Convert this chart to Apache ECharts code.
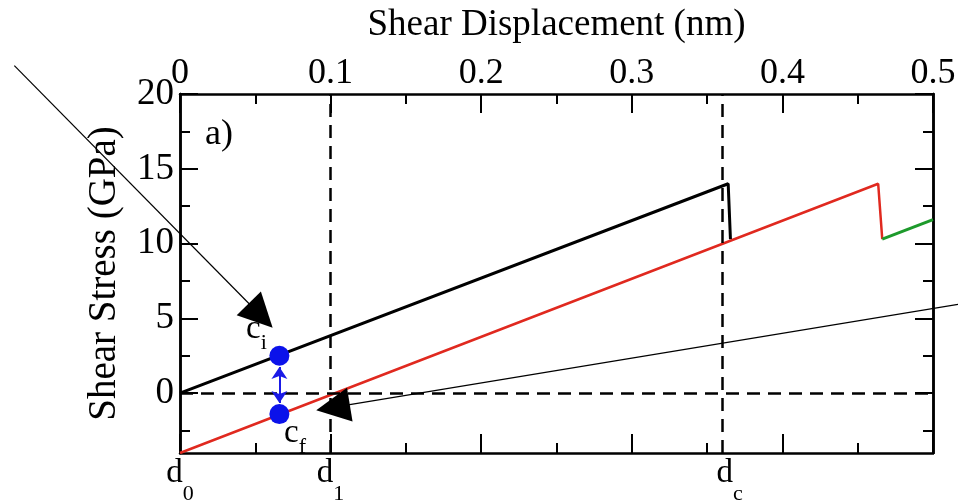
<!DOCTYPE html>
<html>
<head>
<meta charset="utf-8">
<title>Shear Stress vs Shear Displacement</title>
<script src="https://cdn.jsdelivr.net/npm/echarts@6/dist/echarts.min.js"></script>
</head>
<body style="margin:0;background:#fff">
<div id="main" style="width:958px;height:504px;"></div>
<script type="text/javascript">
// values
var blackLine = [[0, 0], [0.364, 14.0], [0.3655, 10.3]];
var redLine = [[0, -4], [0.4636, 14.0], [0.4663, 10.3]];
var greenLine = [[0.4663, 10.3], [0.5, 11.6]];
var cPoints = [[0.066, 2.5], [0.066, -1.4]];
var dPositions = [0, 0.1, 0.365];
var dNames = ['0', '1', 'c'];
var yMajor = [0, 5, 10, 15, 20];
var yMinor = [-2.5, 2.5, 7.5, 12.5, 17.5];
var dashX = [0.1, 0.365];
var dashY = [0];
// annotation arrows, [start, end] in data units
var arrowIn1 = [[-0.110, 21.9], [0.0536, 5.19]];
var arrowIn2 = [[0.5166, 5.93], [0.1016, -0.95]];
var cArrow = [[0.066, 1.75], [0.066, -0.65]];

var serif = 'Liberation Serif';
var tickStyle = {color: '#000', width: 2};

function xAxisBase(pos) {
    return {
        type: 'value', position: pos, min: 0, max: 0.5, interval: 0.1,
        axisLine: {onZero: false, lineStyle: {color: '#000', width: 2.5}},
        axisTick: {inside: true, length: 19, lineStyle: tickStyle},
        minorTick: {show: true, splitNumber: 2, length: 10, lineStyle: tickStyle},
        splitLine: {show: false}
    };
}
function yAxisBase(pos, ticks, len) {
    return {
        type: 'value', position: pos, min: -4, max: 20,
        axisLine: {show: true, onZero: false, lineStyle: {color: '#000', width: 2.5}},
        axisTick: {inside: true, length: len, customValues: ticks, lineStyle: tickStyle},
        axisLabel: {show: false},
        splitLine: {show: false}
    };
}

function subRich(subLine) {
    return {
        d: {fontSize: 33, fontFamily: serif, color: '#000', verticalAlign: 'top', lineHeight: 32},
        s: {fontSize: 22, fontFamily: serif, color: '#000', verticalAlign: 'bottom', lineHeight: subLine}
    };
}

var xBottom = xAxisBase('bottom');
xBottom.axisLabel = {
    customValues: dPositions, margin: 4, color: '#000', fontFamily: serif,
    formatter: function (v) {
        var i = dPositions.indexOf(v);
        return '{d|d}{s|' + (i >= 0 ? dNames[i] : '') + '}';
    },
    rich: subRich(48)
};
var xTop = xAxisBase('top');
xTop.name = 'Shear Displacement (nm)';
xTop.nameLocation = 'middle';
xTop.nameGap = 50;
xTop.nameTextStyle = {fontSize: 37, fontFamily: serif, color: '#000'};
xTop.axisLabel = {
    margin: 2, color: '#000', fontSize: 36, fontFamily: serif,
    showMinLabel: true, showMaxLabel: true,
    formatter: function (v) { return v === 0 ? '0' : v.toFixed(1); }
};

var yLeft = yAxisBase('left', yMajor, 18);
yLeft.axisLabel = {show: true, customValues: yMajor, margin: 6, color: '#000', fontSize: 37, fontFamily: serif};
yLeft.name = 'Shear Stress (GPa)';
yLeft.nameLocation = 'middle';
yLeft.nameGap = 56;
yLeft.nameTextStyle = {fontSize: 39, fontFamily: serif, color: '#000'};

var myChart = echarts.init(document.getElementById('main'), null, {renderer: 'canvas'});

var option = {
    backgroundColor: '#fff',
    animation: false,
    grid: {left: 180, right: 25, top: 94, bottom: 51, outerBoundsMode: 'none'},
    xAxis: [xBottom, xTop],
    yAxis: [
        yLeft,
        yAxisBase('left', yMinor, 10),
        yAxisBase('right', yMajor, 18),
        yAxisBase('right', yMinor, 10)
    ],
    series: [
        {
            type: 'line', data: blackLine, symbol: 'none', z: 4,
            lineStyle: {color: '#000', width: 3},
            markLine: {
                silent: true, symbol: 'none', label: {show: false},
                lineStyle: {color: '#000', width: 2.5, type: [13, 8]},
                data: dashX.map(function (x) { return {xAxis: x}; })
                    .concat(dashY.map(function (y) { return {yAxis: y}; }))
            }
        },
        {type: 'line', data: redLine, symbol: 'none', z: 3, lineStyle: {color: '#e0291f', width: 2.5}},
        {type: 'line', data: greenLine, symbol: 'none', z: 3, lineStyle: {color: '#1d9a2b', width: 3}},
        {
            type: 'lines', coordinateSystem: 'cartesian2d', clip: false, z: 6,
            symbol: ['none', 'triangle'], symbolSize: [25, 34],
            lineStyle: {color: '#000', width: 1.2, opacity: 1},
            data: [{coords: arrowIn1}, {coords: arrowIn2}]
        },
        {
            type: 'lines', coordinateSystem: 'cartesian2d', clip: false, z: 7,
            symbol: ['arrow', 'arrow'], symbolSize: [12, 12],
            lineStyle: {color: '#1a1ae6', width: 2, opacity: 1},
            data: [{coords: cArrow}]
        },
        {
            type: 'scatter', data: cPoints, symbolSize: 20, z: 8,
            itemStyle: {color: '#0b12ea', opacity: 1}
        }
    ],
    graphic: [
        {type: 'text', left: 205, top: 117, z: 20,
            style: {text: 'a)', font: '36px "Liberation Serif"', fill: '#000'}},
        {type: 'text', left: 246, top: 313, z: 20,
            style: {text: '{d|c}{s|i}', fill: '#000', rich: subRich(41)}},
        {type: 'text', left: 284, top: 417, z: 20,
            style: {text: '{d|c}{s|f}', fill: '#000', rich: subRich(41)}}
    ]
};

myChart.setOption(option);
</script>
</body>
</html>
